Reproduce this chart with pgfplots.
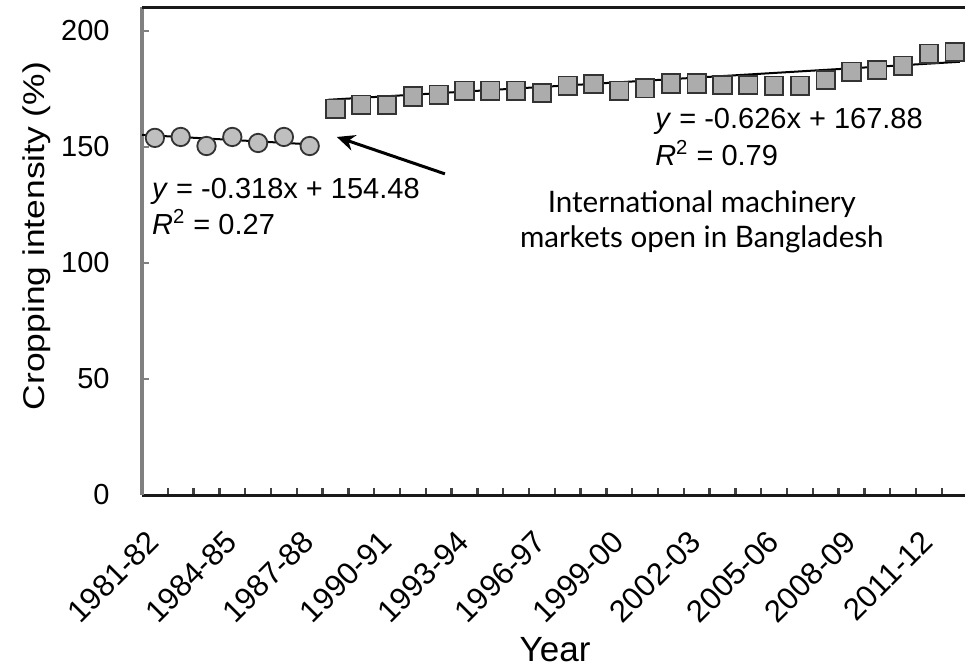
\documentclass[border=0pt]{standalone}
\usepackage{fontspec}
\setmainfont{Liberation Sans}
\newfontfamily\gill{Lato}
\usepackage{pgfplots}
\pgfplotsset{compat=1.18}
\usetikzlibrary{arrows.meta}
\definecolor{mfill}{HTML}{BFBFBF}
\begin{document}
\begin{tikzpicture}
\begin{axis}[
  scale only axis,
  width=412.8pt, height=244pt,
  xmin=-0.5, xmax=31.5, ymin=0, ymax=210.3,
  axis lines=left,
  axis line style={-},
  x axis line style={black!90, line width=1.5pt},
  y axis line style={gray, line width=2pt},
  tick align=inside,
  major tick length=3.5pt,
  /pgf/number format/assume math mode=true,
  ytick={0,50,100,150,200},
  ytick style={gray, line width=1.2pt},
  yticklabel style={font=\fontsize{14.5}{17}\selectfont, inner sep=0pt, xshift=-16pt},
  xtick={0.5,1.5,...,30.5},
  xticklabels={},
  xtick style={black!75, line width=1.2pt},
  extra x ticks={0,3,6,9,12,15,18,21,24,27,30},
  extra x tick labels={1981-82,1984-85,1987-88,1990-91,1993-94,1996-97,1999-00,2002-03,2005-06,2008-09,2011-12},
  extra x tick style={major tick length=0pt,
    xticklabel style={font=\fontsize{15.5}{18}\selectfont, inner sep=0pt, xshift=-4.5pt, yshift=-16.5pt, rotate=45, anchor=north east}},
  xlabel={Year},
  xlabel style={font=\fontsize{17.5}{20}\selectfont, at={(rel axis cs:0.5003,-0.3176)}, anchor=center},
  ylabel={\scalebox{1.18}[1]{Cropping intensity (\%)}},
  ylabel style={font=\fontsize{15}{18}\selectfont, at={(rel axis cs:-0.1272,0.5307)}, anchor=center},
  clip=false,
]
% trend lines
\addplot[black, line width=1pt] coordinates {(-0.5,155.2) (6.2,151.0)};
\addplot[black, line width=1pt] coordinates {(6.7,170.3) (31.2,186.7)};
% circles
\addplot[only marks, mark=*, mark size=4.6pt, mark options={fill=mfill, draw=black!80, line width=0.9pt}]
 coordinates {(0,153.9) (1,154.3) (2,150.4) (3,154.3) (4,151.7) (5,154.3) (6,150.4)};
% squares
\addplot[only marks, mark=square*, mark size=4.6pt, mark options={fill=mfill!90!black, draw=black!80, line width=0.9pt}]
 coordinates {(7,166.5) (8,168.2) (9,168.1) (10,171.7) (11,172.5) (12,174.2) (13,174.2) (14,174.2) (15,173.2)
 (16,176.4) (17,177.1) (18,174.2) (19,175.3) (20,177.3) (21,177.3) (22,176.7) (23,176.7) (24,176.4) (25,176.4)
 (26,178.9) (27,182.4) (28,183.1) (29,185.0) (30,190.2) (31,190.9)};
% top frame line
\draw[black!90, line width=1.5pt] (rel axis cs:0,1) -- (rel axis cs:1,1);
% equations
\node[anchor=west, inner sep=0pt, font=\fontsize{14.5}{17}\selectfont] at (axis cs:-0.12,131) {\textit{y} = -0.318x + 154.48};
\node[anchor=west, inner sep=0pt, font=\fontsize{14.5}{17}\selectfont] at (axis cs:-0.12,117.7) {\textit{R}\textsuperscript{2} = 0.27};
\node[anchor=west, inner sep=0pt, font=\fontsize{14.5}{17}\selectfont] at (axis cs:19.38,160.8) {\textit{y} = -0.626x + 167.88};
\node[anchor=west, inner sep=0pt, font=\fontsize{14.5}{17}\selectfont] at (axis cs:19.38,147.4) {\textit{R}\textsuperscript{2} = 0.79};
% annotation
\node[anchor=base, inner sep=0pt, font=\gill\fontsize{14.8}{18}\selectfont] at (axis cs:21.2,121.6) {International machinery};
\node[anchor=base, inner sep=0pt, font=\gill\fontsize{14.8}{18}\selectfont] at (axis cs:21.2,106.5) {markets open in Bangladesh};
\draw[black, line width=1.5pt, -{Stealth[length=9pt,width=8pt]}] (axis cs:11.24,138.4) -- (axis cs:7.05,154.3);
\end{axis}
\pgfresetboundingbox
\useasboundingbox (-71pt,-87.5pt) rectangle (411.5pt,247.5pt);
\end{tikzpicture}
\end{document}
